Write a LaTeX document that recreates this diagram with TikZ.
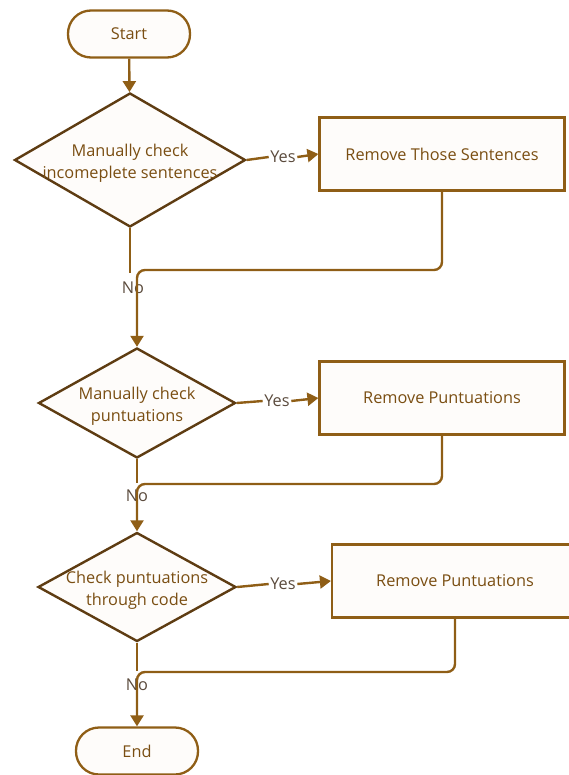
\documentclass[tikz,border=0pt]{standalone}
\usepackage{fontspec}
\setmainfont{Open Sans}
\usetikzlibrary{shapes.geometric,arrows.meta}
\definecolor{edgebrown}{HTML}{8F5E16}
\definecolor{darkbrown}{HTML}{5E3C12}
\definecolor{txtbrown}{HTML}{7A4E12}
\definecolor{lblgrey}{HTML}{5A4A3C}
\definecolor{fillc}{HTML}{FEFCFA}
\tikzset{
  x=1pt, y=-1pt,
  every node/.style={font=\fontsize{16.3}{22}\selectfont, text=txtbrown},
  term/.style={draw=edgebrown, fill=fillc, line width=2.3pt, rounded corners=23pt,
    minimum width=122pt, minimum height=47pt, inner sep=0pt},
  procbox/.style={draw=edgebrown, fill=fillc, line width=2.2pt, minimum width=245pt,
    minimum height=73pt, inner sep=0pt},
  dec/.style={draw=darkbrown, fill=fillc, line width=2.4pt, diamond, inner sep=0pt},
  lbl/.style={text=lblgrey, inner sep=1.5pt},
  conn/.style={draw=edgebrown, line width=2.4pt},
  arr/.style={conn, -{Triangle[length=11pt,width=13pt]}},
}
\newcommand{\twolines}[2]{\raisebox{-7pt}[0pt][0pt]{\makebox[0pt][c]{\begin{tabular}{@{}c@{}}#1\\#2\end{tabular}}}}
\begin{document}
\begin{tikzpicture}
\useasboundingbox (0,0) rectangle (569,775);
\clip (0,0) rectangle (569,775);
% nodes
\node[term] (start) at (129,34) {Start};
\node[dec, minimum width=231pt, minimum height=134pt] (d1) at (130,160) {\twolines{Manually check}{incomeplete sentences}};
\node[procbox] (b1) at (442,154) {Remove Those Sentences};
\node[dec, minimum width=197pt, minimum height=110pt] (d2) at (137,403) {\twolines{Manually check}{puntuations}};
\node[procbox] (b2) at (442,398) {Remove Puntuations};
\node[dec, minimum width=198pt, minimum height=109pt] (d3) at (137,587) {\twolines{Check puntuations}{through code}};
\node[procbox, minimum width=246pt] (b3) at (455,581) {Remove Puntuations};
\node[term] (end) at (137,751) {End};
% labels
\node[lbl] (y1) at (283,157) {Yes};
\node[lbl] (y2) at (277,401) {Yes};
\node[lbl] (y3) at (283,584) {Yes};
\node[lbl] (n1) at (133,288) {No};
\node[lbl] (n2) at (137,496) {No};
\node[lbl] (n3) at (137,685) {No};
\coordinate (m1) at (137,270);
\coordinate (m2) at (137,484);
\coordinate (m3) at (137,672);
% connectors
\draw[arr] (start) -- (d1);
\draw[conn] (d1.east) -- (y1.west);
\draw[arr] (y1.east) -- (b1.west);
\draw[conn] (d1.south) -- ++(0,45);
\draw[arr, rounded corners=8pt] (b1.south) |- (m1) -- (d2.north);
\draw[conn] (d2.east) -- (y2.west);
\draw[arr] (y2.east) -- (b2.west);
\draw[conn] (d2.south) -- ++(0,24);
\draw[arr, rounded corners=8pt] (b2.south) |- (m2) -- (d3.north);
\draw[conn] (d3.east) -- (y3.west);
\draw[arr] (y3.east) -- (b3.west);
\draw[conn] (d3.south) -- ++(0,28);
\draw[arr, rounded corners=8pt] (b3.south) |- (m3) -- (end);
\end{tikzpicture}
\end{document}
